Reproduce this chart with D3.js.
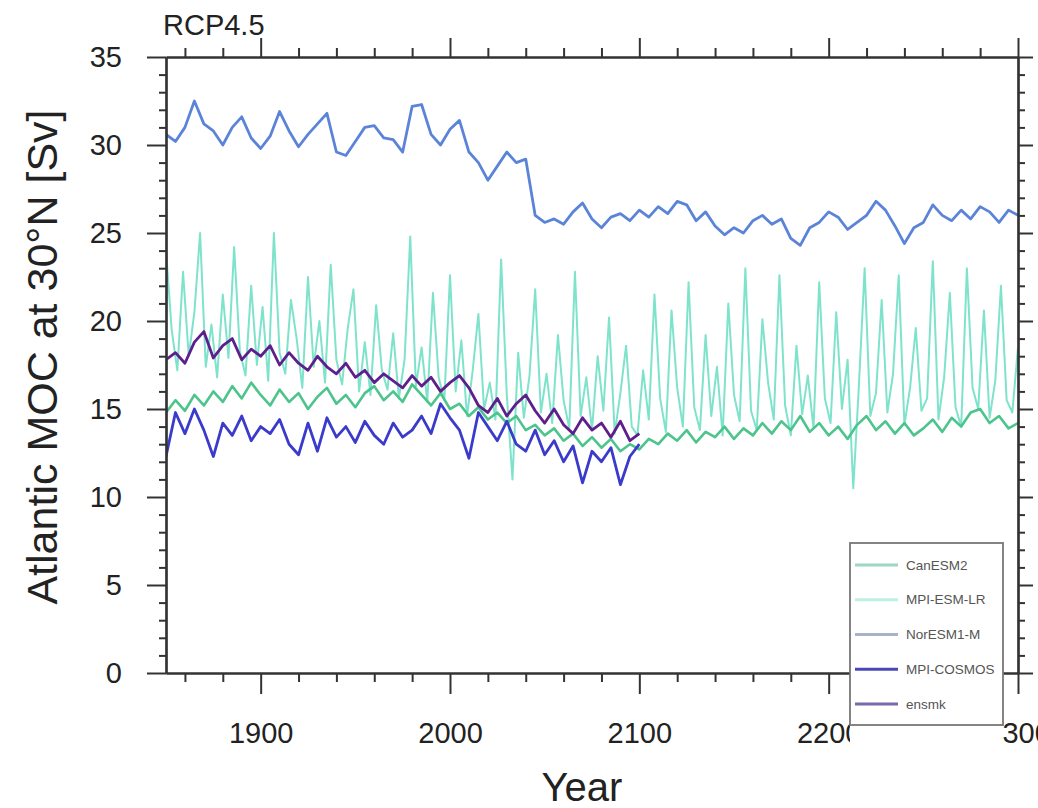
<!DOCTYPE html>
<html>
<head>
<meta charset="utf-8">
<script src="https://cdn.jsdelivr.net/npm/d3@7"></script>
<style>
  html, body { margin: 0; padding: 0; background: #fff; }
  svg { display: block; font-family: "Liberation Sans", Arial, Helvetica, sans-serif; }
</style>
</head>
<body>
<svg id="chart" width="1038" height="808"></svg>
<script>
// ---------------- DATA ----------------
const yearsLong = [1850,1855,1860,1865,1870,1875,1880,1885,1890,1895,1900,1905,1910,1915,1920,1925,1930,1935,1940,1945,
  1950,1955,1960,1965,1970,1975,1980,1985,1990,1995,2000,2005,2010,2015,2020,2025,2030,2035,2040,2045,
  2050,2055,2060,2065,2070,2075,2080,2085,2090,2095,2100,2105,2110,2115,2120,2125,2130,2135,2140,2145,
  2150,2155,2160,2165,2170,2175,2180,2185,2190,2195,2200,2205,2210,2215,2220,2225,2230,2235,2240,2245,
  2250,2255,2260,2265,2270,2275,2280,2285,2290,2295,2300];
const yearsShort = [1850,1855,1860,1865,1870,1875,1880,1885,1890,1895,1900,1905,1910,1915,1920,1925,1930,1935,1940,1945,
  1950,1955,1960,1965,1970,1975,1980,1985,1990,1995,2000,2005,2010,2015,2020,2025,2030,2035,2040,2045,
  2050,2055,2060,2065,2070,2075,2080,2085,2090,2095,2100];
// MPI-ESM-LR is sampled every 3 years (1850, 1853, ..., 2300)
const yearsMpiEsm = d3.range(1850, 2301, 3);

const seriesNames = ["CanESM2", "MPI-ESM-LR", "NorESM1-M", "MPI-COSMOS", "ensmk"];

const canESM2 = [14.8,15.5,14.9,15.8,15.2,16.0,15.4,16.3,15.6,16.5,15.8,15.2,16.1,15.4,15.9,15.0,15.7,16.2,15.3,15.8,
  15.1,15.9,16.3,15.5,16.0,15.4,16.4,15.8,15.2,15.9,15.0,15.3,14.6,15.1,14.4,14.8,14.2,14.6,13.8,14.1,
  13.5,13.9,13.2,13.6,12.9,13.4,12.8,13.3,12.6,13.0,12.7,13.3,13.0,13.6,13.2,13.8,13.1,13.7,13.4,14.0,
  13.3,13.9,13.5,14.2,13.6,14.3,13.8,14.6,13.7,14.2,13.5,14.0,13.3,14.1,14.6,13.8,14.3,13.6,14.2,13.5,
  13.9,14.4,13.7,14.5,14.0,14.8,15.0,14.2,14.6,13.9,14.2];

const mpiEsmLR = [
  24.0,19.5,17.2,22.8,18.0,20.5,25.0,17.4,19.8,16.8,21.5,17.9,24.2,18.3,16.9,22.0,17.5,
  20.8,16.6,25.0,18.2,17.0,21.2,19.0,16.2,22.5,17.4,20.0,16.5,23.2,17.8,16.4,19.6,21.8,
  16.0,18.8,15.8,20.9,17.2,16.1,19.3,15.6,17.8,24.8,16.3,18.5,15.4,21.6,16.8,15.5,22.6,
  16.0,18.9,14.6,17.2,20.4,15.0,16.5,14.4,23.5,15.8,11.0,18.2,14.5,16.9,21.8,14.8,17.0,
  14.2,19.2,15.5,13.9,22.8,14.6,16.8,13.8,18.0,14.9,20.2,13.6,15.9,18.6,14.0,13.5,17.2,
  14.4,21.5,15.6,13.7,20.6,16.2,14.0,22.2,15.1,13.8,19.2,14.6,17.4,13.5,21.0,15.8,14.3,
  23.0,14.9,13.8,20.1,16.5,14.4,22.6,15.2,13.5,18.6,14.7,16.9,13.9,22.2,15.6,14.2,20.5,
  15.0,17.8,10.5,16.4,23.0,14.6,15.9,21.2,14.8,17.0,22.6,14.1,16.2,19.6,14.9,15.6,23.4,
  14.4,16.8,21.6,15.1,14.0,23.0,16.2,15.0,20.6,14.5,16.6,22.0,15.5,14.8,18.5];

const norESM1M = [30.6,30.2,31.0,32.5,31.2,30.8,30.0,31.0,31.6,30.4,29.8,30.5,31.9,30.8,29.9,30.6,31.2,31.8,29.6,29.4,
  30.2,31.0,31.1,30.4,30.3,29.6,32.2,32.3,30.6,30.0,30.9,31.4,29.6,29.0,28.0,28.8,29.6,29.0,29.2,26.0,
  25.6,25.8,25.5,26.2,26.7,25.8,25.3,25.9,26.1,25.7,26.3,25.9,26.5,26.1,26.8,26.6,25.7,26.2,25.4,24.9,
  25.3,25.0,25.7,26.0,25.5,25.8,24.7,24.3,25.3,25.6,26.2,25.9,25.2,25.6,26.0,26.8,26.3,25.4,24.4,25.3,
  25.6,26.6,26.0,25.7,26.3,25.8,26.5,26.2,25.6,26.3,26.0];

const mpiCosmos = [12.3,14.8,13.6,15.0,13.8,12.3,14.2,13.5,14.6,13.2,14.0,13.6,14.4,13.0,12.4,14.2,12.6,14.5,13.4,14.0,
  13.1,14.3,13.5,13.0,14.2,13.4,13.8,14.6,13.6,15.3,14.5,13.8,12.2,14.8,14.0,13.2,14.3,13.0,12.6,13.8,
  12.4,13.2,12.0,12.9,10.8,12.6,12.0,12.8,10.7,12.3,13.0];

const ensmk = [17.8,18.2,17.6,18.8,19.4,17.9,18.6,19.0,17.8,18.4,18.0,18.6,17.5,18.2,17.6,17.2,18.0,17.4,17.0,17.6,
  16.8,17.2,16.5,17.0,16.6,16.2,16.9,16.3,16.8,16.0,16.5,16.9,16.2,15.2,14.8,15.6,14.6,15.3,15.8,14.9,
  14.2,15.0,14.1,13.6,14.5,13.8,14.2,13.4,14.3,13.2,13.6];

const xMajorTicks = [1900, 2000, 2100, 2200, 2300];
const xTickLabels = ["1900", "2000", "2100", "2200", "2300"];
const yMajorTicks = [0, 5, 10, 15, 20, 25, 30, 35];
const yTickLabels = ["0", "5", "10", "15", "20", "25", "30", "35"];

const titleText = "RCP4.5";
const xLabelText = "Year";
const yLabelText = "Atlantic MOC at 30\u00B0N [Sv]";

// ---------------- LAYOUT ----------------
const colors = {
  "CanESM2": "#4cc48c",
  "MPI-ESM-LR": "#7fe3cc",
  "NorESM1-M": "#5b84d8",
  "MPI-COSMOS": "#3a3acb",
  "ensmk": "#5e1f8c"
};
const legendColors = {
  "CanESM2": "#9fd6c3",
  "MPI-ESM-LR": "#bfeee2",
  "NorESM1-M": "#a9b2c6",
  "MPI-COSMOS": "#4a48b4",
  "ensmk": "#7a68aa"
};

const svg = d3.select("#chart");
const L = 166, R = 1018, T = 57, B = 673;

const x = d3.scaleLinear().domain([1850, 2300]).range([L, R]);
const y = d3.scaleLinear().domain([0, 35]).range([B, T]);

svg.append("defs").append("clipPath").attr("id", "plotclip")
  .append("rect").attr("x", L).attr("y", T).attr("width", R - L).attr("height", B - T);

const gLines = svg.append("g").attr("clip-path", "url(#plotclip)");

const seriesData = [
  { name: "MPI-ESM-LR", years: yearsMpiEsm, vals: mpiEsmLR, w: 2.0 },
  { name: "CanESM2", years: yearsLong, vals: canESM2, w: 2.6 },
  { name: "NorESM1-M", years: yearsLong, vals: norESM1M, w: 2.8 },
  { name: "MPI-COSMOS", years: yearsShort, vals: mpiCosmos, w: 2.8 },
  { name: "ensmk", years: yearsShort, vals: ensmk, w: 2.8 }
];

const line = d3.line().x(d => x(d[0])).y(d => y(d[1]));
seriesData.forEach(s => {
  gLines.append("path")
    .datum(s.years.map((yr, i) => [yr, s.vals[i]]))
    .attr("d", line)
    .attr("fill", "none")
    .attr("stroke", colors[s.name])
    .attr("stroke-width", s.w)
    .attr("stroke-linejoin", "round");
});

// ---------------- AXES ----------------
const axisColor = "#333";
const xMinor = d3.range(1860, 2300, 20).filter(v => v % 100 !== 0);
const yMinor = d3.range(1, 35, 1).filter(v => v % 5 !== 0);

function styleAxis(g) {
  g.selectAll("path.domain").attr("stroke", axisColor).attr("stroke-width", 2.2);
  g.selectAll(".tick line").attr("stroke", axisColor).attr("stroke-width", 2);
  g.selectAll("text").attr("fill", "#222");
}

// bottom
const gBottom = svg.append("g").attr("transform", `translate(0,${B})`);
gBottom.call(d3.axisBottom(x).tickValues(xMinor).tickSize(9).tickFormat("").tickSizeOuter(0));
gBottom.call(g => styleAxis(g));
const gBottomMaj = svg.append("g").attr("transform", `translate(0,${B})`);
gBottomMaj.call(d3.axisBottom(x).tickValues(xMajorTicks).tickSize(21).tickSizeOuter(0)
  .tickPadding(24).tickFormat((d, i) => xTickLabels[i]));
gBottomMaj.call(g => styleAxis(g));
gBottomMaj.selectAll("text").attr("font-size", 29).attr("dy", 0).attr("y", 70);

// top
const gTop = svg.append("g").attr("transform", `translate(0,${T})`);
gTop.call(d3.axisTop(x).tickValues(xMinor).tickSize(9).tickFormat("").tickSizeOuter(0));
gTop.call(g => styleAxis(g));
const gTopMaj = svg.append("g").attr("transform", `translate(0,${T})`);
gTopMaj.call(d3.axisTop(x).tickValues(xMajorTicks).tickSize(19).tickFormat("").tickSizeOuter(0));
gTopMaj.call(g => styleAxis(g));

// left
const gLeft = svg.append("g").attr("transform", `translate(${L},0)`);
gLeft.call(d3.axisLeft(y).tickValues(yMinor).tickSize(7).tickFormat("").tickSizeOuter(0));
gLeft.call(g => styleAxis(g));
const gLeftMaj = svg.append("g").attr("transform", `translate(${L},0)`);
gLeftMaj.call(d3.axisLeft(y).tickValues(yMajorTicks).tickSize(19).tickPadding(25)
  .tickFormat((d, i) => yTickLabels[i]).tickSizeOuter(0));
gLeftMaj.call(g => styleAxis(g));
gLeftMaj.selectAll("text").attr("font-size", 29);

// right
const gRight = svg.append("g").attr("transform", `translate(${R},0)`);
gRight.call(d3.axisRight(y).tickValues(yMinor).tickSize(7).tickFormat("").tickSizeOuter(0));
gRight.call(g => styleAxis(g));
const gRightMaj = svg.append("g").attr("transform", `translate(${R},0)`);
gRightMaj.call(d3.axisRight(y).tickValues(yMajorTicks).tickSize(15).tickFormat("").tickSizeOuter(0));
gRightMaj.call(g => styleAxis(g));

// ---------------- TITLES ----------------
svg.append("text").attr("x", 163).attr("y", 35).attr("font-size", 29).attr("fill", "#222")
  .text(titleText);
svg.append("text").attr("x", (L + R) / 2 - 10).attr("y", 801).attr("text-anchor", "middle")
  .attr("font-size", 40).attr("fill", "#222").text(xLabelText);
svg.append("text").attr("transform", `translate(57,357) rotate(-90)`).attr("text-anchor", "middle")
  .attr("font-size", 43).attr("fill", "#222").text(yLabelText);

// ---------------- LEGEND ----------------
const lg = svg.append("g");
lg.append("rect").attr("x", 850).attr("y", 541).attr("width", 153).attr("height", 212).attr("fill", "#fff");
lg.append("rect").attr("x", 850).attr("y", 543).attr("width", 153).attr("height", 182)
  .attr("fill", "none").attr("stroke", "#777").attr("stroke-width", 1.8);
const legY = d3.scalePoint().domain(seriesNames).range([565, 704]);
seriesNames.forEach(n => {
  lg.append("line").attr("x1", 855).attr("x2", 898).attr("y1", legY(n)).attr("y2", legY(n))
    .attr("stroke", legendColors[n]).attr("stroke-width", 3);
  lg.append("text").attr("x", 906).attr("y", legY(n)).attr("dy", "0.35em")
    .attr("font-size", 13.5).attr("fill", "#555").text(n);
});
</script>
</body>
</html>
